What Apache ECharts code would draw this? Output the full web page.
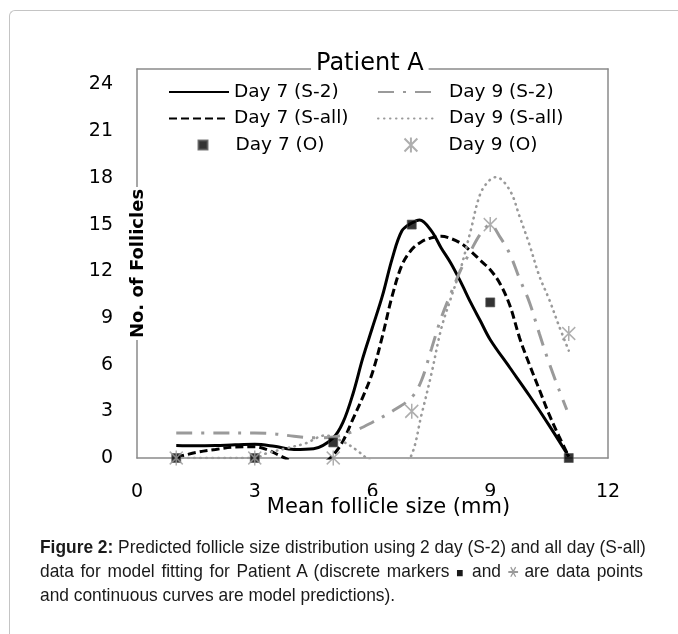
<!DOCTYPE html>
<html><head><meta charset="utf-8">
<script src="https://cdn.jsdelivr.net/npm/echarts@6/dist/echarts.min.js"></script>
<style>
html,body{margin:0;padding:0;background:#fff;width:678px;height:634px;overflow:hidden}
#frame{position:absolute;left:9px;top:10px;width:800px;height:800px;border-left:1px solid #c4c4c4;border-top:1px solid #c4c4c4;border-top-left-radius:6px}
#chart{position:absolute;left:0;top:0;width:678px;height:634px}
#cap{position:absolute;left:40px;top:536px;width:660px;transform:scaleX(0.9136);transform-origin:0 0;font-family:'Liberation Sans',Arial,sans-serif;font-size:19px;line-height:22.5px;color:#1a1a1a}
.j{text-align:justify;text-align-last:justify;white-space:nowrap}
</style></head>
<body>
<div id="frame"></div>
<div id="chart"></div>
<div id="cap">
<div class="j"><b>Figure 2:</b> Predicted follicle size distribution using 2 day (S-2) and all day (S-all)</div>
<div class="j">data for model fitting for Patient A (discrete markers <span style="font-size:13px">■</span> and <span style="color:#9a9a9a;font-family:'DejaVu Sans'">⚹</span> are data points</div>
<div>and continuous curves are model predictions).</div>
</div>
<script>
// ---- data ----
const xTicks = [0, 3, 6, 9, 12];
const yTicks = [0, 3, 6, 9, 12, 15, 18, 21, 24];

// observed data
const obsX = [1, 3, 5, 7, 9, 11];
const day7Obs = [0, 0, 1, 15, 10, 0];
const day9Obs = [0, 0, 0, 3, 15, 8];

// Day 7 (S-2) model curve
const d7s2X = [1, 1.5, 2, 2.5, 3, 3.5, 4, 4.5, 5, 5.25, 5.5, 5.75, 6, 6.25, 6.5, 6.75, 7, 7.2, 7.5, 7.75, 8, 8.25, 8.5, 8.75, 9, 9.5, 10, 10.5, 11];
const d7s2Y = [0.8, 0.78, 0.8, 0.85, 0.88, 0.75, 0.55, 0.6, 1.3, 2.3, 4.1, 6.4, 8.4, 10.4, 12.8, 14.6, 15.1, 15.3, 14.6, 13.5, 12.5, 11.3, 10.0, 8.8, 7.6, 5.8, 4.0, 2.1, 0.1];

// Day 7 (S-all) model curve
const d7sallX = [1, 1.5, 2, 2.5, 3, 3.3, 3.6, 3.85, 4.3, 4.7, 5, 5.25, 5.5, 5.75, 6, 6.25, 6.5, 6.75, 7, 7.25, 7.5, 7.75, 8, 8.25, 8.5, 8.75, 9, 9.25, 9.5, 9.75, 10, 10.25, 10.5, 10.75, 11];
const d7sallY = [0.05, 0.35, 0.55, 0.7, 0.72, 0.55, 0.2, -0.1, -0.6, -0.4, 0.2, 1.1, 2.5, 3.9, 5.5, 7.8, 10.4, 12.4, 13.4, 13.9, 14.15, 14.25, 14.1, 13.8, 13.3, 12.7, 12.1, 11.2, 9.8, 7.7, 6.0, 4.4, 2.8, 1.4, 0.1];

// Day 9 (S-2) model curve
const d9s2X = [1, 2, 3, 3.5, 4, 4.5, 5, 5.5, 6, 6.5, 7, 7.25, 7.5, 7.75, 8, 8.25, 8.5, 8.75, 9, 9.25, 9.5, 9.75, 10, 10.25, 10.5, 10.75, 10.95];
const d9s2Y = [1.6, 1.6, 1.6, 1.55, 1.4, 1.3, 1.35, 1.7, 2.3, 3.0, 3.9, 5.0, 7.0, 9.0, 10.6, 12.1, 13.3, 14.4, 15.0, 14.2, 13.1, 11.5, 10.0, 8.0, 6.1, 4.4, 3.1];

// Day 9 (S-all) model curve
const d9sallX = [1, 2, 3, 3.3, 3.8, 4.3, 4.8, 5.25, 5.6, 5.85, 6.2, 6.6, 6.96, 7.25, 7.5, 7.75, 8, 8.25, 8.5, 8.75, 9, 9.15, 9.5, 9.75, 10, 10.25, 10.5, 10.75, 11];
const d9sallY = [0, 0, 0, 0.3, 0.62, 0.95, 1.45, 1.05, 0.5, 0, -0.5, -0.6, 0, 2.8, 5.4, 8.3, 10.3, 12.2, 14.6, 17.0, 17.9, 18.05, 17.2, 15.5, 13.7, 11.7, 10.2, 8.5, 6.9];

const names = ['Day 7 (S-2)', 'Day 7 (S-all)', 'Day 7 (O)', 'Day 9 (S-2)', 'Day 9 (S-all)', 'Day 9 (O)'];
const titleText = 'Patient A';
const xName = 'Mean follicle size (mm)';
const yName = 'No. of Follicles';

// ---- chart ----
const pairs = (xs, ys) => xs.map((x, i) => [x, ys[i]]);
const FONT = 'DejaVu Sans';
const GRAY = '#9a9a9a';
const AX = '#8a8a8a';
const star = 'path://M6,0L6,14M0,1L12,13M0,13L12,1';

const chart = echarts.init(document.getElementById('chart'), null, {renderer: 'canvas'});
const lineBase = {type: 'line', symbol: 'none', smooth: 0.35, clip: true, silent: true};
const txt = {fontFamily: FONT, fontSize: 18.5, color: '#000'};
const legendBase = {orient: 'vertical', padding: 0, itemGap: 7.5, itemHeight: 14, textStyle: txt, selectedMode: false};
const frameAxis = {type: 'value', axisTick: {show: false}, axisLabel: {show: false}, splitLine: {show: false}};

chart.setOption({
  animation: false,
  backgroundColor: 'transparent',
  title: {text: titleText, left: 311, top: 52, padding: [0, 5, 0, 5], backgroundColor: '#fff',
    textStyle: {fontFamily: FONT, fontSize: 24, fontWeight: 'normal', color: '#000'}, z: 10},
  grid: {left: 137, right: 70, top: 69, bottom: 176},
  legend: [
    Object.assign({}, legendBase, {left: 168, top: 82.5, itemWidth: 60, itemStyle: {opacity: 0}, data: [names[0], names[1]]}),
    Object.assign({}, legendBase, {left: 377, top: 82.5, itemWidth: 55, itemStyle: {opacity: 0}, data: [names[3], names[4]],
      textStyle: Object.assign({}, txt, {padding: [0, 0, 0, 11]})}),
    Object.assign({}, legendBase, {left: 197.5, top: 135.5, itemWidth: 9, itemHeight: 9, data: [names[2]],
      textStyle: Object.assign({}, txt, {padding: [0, 0, 0, 23]})}),
    Object.assign({}, legendBase, {left: 403.5, top: 135.5, itemWidth: 13, itemHeight: 15, data: [names[5]],
      textStyle: Object.assign({}, txt, {padding: [0, 0, 0, 26]})})
  ],
  xAxis: [{
    type: 'value', min: xTicks[0], max: xTicks[xTicks.length - 1], interval: 3,
    axisLine: {show: true, lineStyle: {color: AX, width: 1.5}},
    axisTick: {show: false}, splitLine: {show: false},
    axisLabel: {margin: 25, fontFamily: FONT, fontSize: 19, color: '#000'}
  }, Object.assign({}, frameAxis, {
    position: 'top', min: 0, max: 12,
    axisLine: {show: true, onZero: false, lineStyle: {color: AX, width: 1.5}}
  }), Object.assign({}, frameAxis, {
    position: 'bottom', min: 0, max: 12, z: 10, axisLine: {show: false},
    name: '{a|' + xName + '}', nameLocation: 'middle', nameGap: 38, nameMoveOverlap: false,
    nameTextStyle: {padding: [0, 0, 0, 32], rich: {a: {fontFamily: FONT, fontSize: 21, color: '#000', backgroundColor: '#fff', padding: [1, 2, 0, 2]}}}
  })],
  yAxis: [{
    type: 'value', min: 0, max: 25, interval: 3,
    axisLine: {show: true, lineStyle: {color: AX, width: 1.5}},
    axisTick: {show: false}, splitLine: {show: false},
    axisLabel: {margin: 24, fontFamily: FONT, fontSize: 19, color: '#000', showMaxLabel: false}
  }, Object.assign({}, frameAxis, {
    position: 'right', min: 0, max: 25,
    axisLine: {show: true, onZero: false, lineStyle: {color: AX, width: 1.5}}
  }), Object.assign({}, frameAxis, {
    position: 'left', min: 0, max: 25, z: 10, axisLine: {show: false},
    name: '{b|' + yName + '}', nameLocation: 'middle', nameGap: -10, nameRotate: 90, nameMoveOverlap: false,
    nameTextStyle: {rich: {b: {fontFamily: FONT, fontSize: 18, fontWeight: 'bold', color: '#000', backgroundColor: '#fff', padding: [0, 2, 0, 2]}}}
  })],
  series: [
    Object.assign({}, lineBase, {name: names[0], data: pairs(d7s2X, d7s2Y),
      lineStyle: {color: '#000', width: 3}, itemStyle: {color: '#000'}}),
    Object.assign({}, lineBase, {name: names[1], data: pairs(d7sallX, d7sallY),
      lineStyle: {color: '#000', width: 3, type: [8, 4]}, itemStyle: {color: '#000'}}),
    Object.assign({}, lineBase, {name: names[3], data: pairs(d9s2X, d9s2Y),
      lineStyle: {color: GRAY, width: 3, type: [16, 9, 3, 9]}, itemStyle: {color: GRAY}}),
    Object.assign({}, lineBase, {name: names[4], data: pairs(d9sallX, d9sallY),
      lineStyle: {color: GRAY, width: 2.6, type: [0.5, 5.5], cap: 'round'}, itemStyle: {color: GRAY}}),
    {type: 'scatter', name: names[2], data: pairs(obsX, day7Obs), symbol: 'rect', symbolSize: 9, clip: false,
      itemStyle: {color: '#000', borderColor: '#555', borderWidth: 0.8}, z: 3},
    {type: 'scatter', name: names[5], data: pairs(obsX, day9Obs), symbol: star, symbolSize: [13, 15], clip: false,
      itemStyle: {color: 'rgba(0,0,0,0)', borderColor: GRAY, borderWidth: 1.6}, z: 4}
  ]
});
</script>
</body></html>
